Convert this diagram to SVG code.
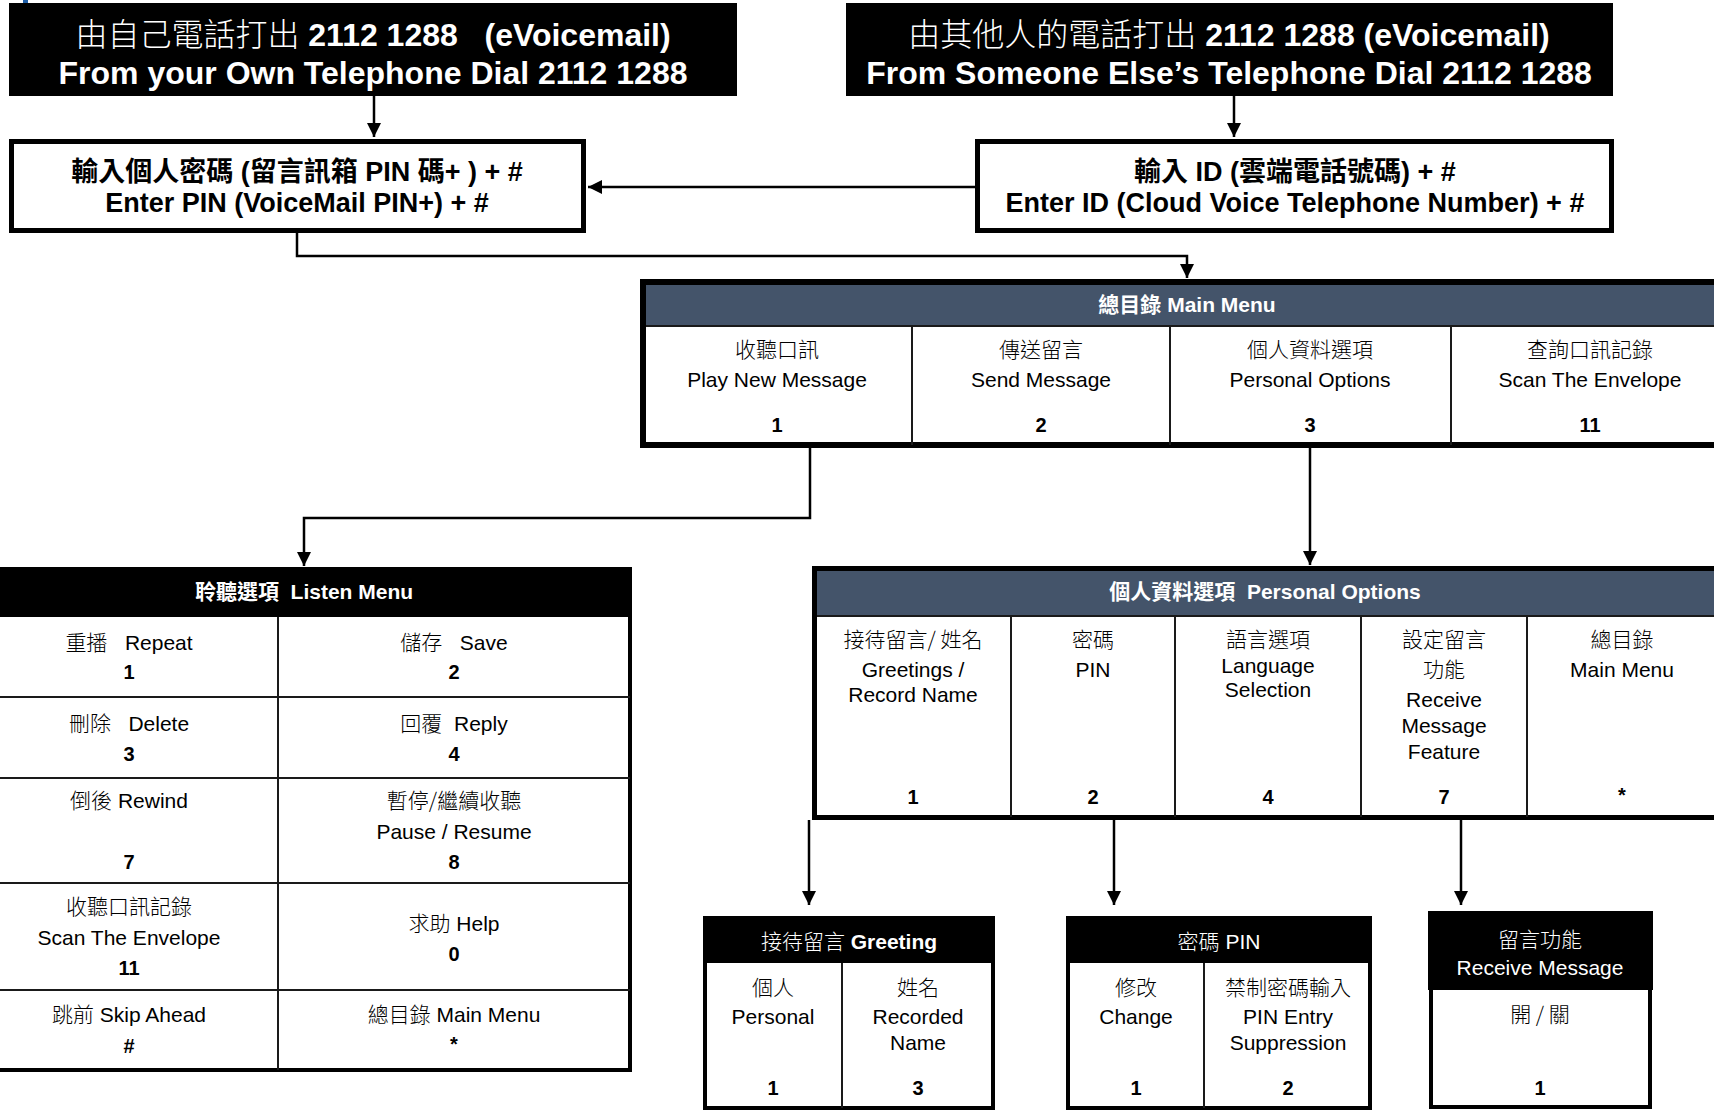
<svg xmlns="http://www.w3.org/2000/svg" width="1714" height="1110" viewBox="0 0 1714 1110">
<style>
text{font-family:"Liberation Sans","Noto Sans CJK TC",sans-serif;text-anchor:middle;fill:#000}
.c{font-family:"Noto Sans CJK TC","Liberation Sans",sans-serif;font-weight:300}
.cb{font-family:"Noto Sans CJK TC","Liberation Sans",sans-serif;font-weight:700}
.w{fill:#fff}
.b{font-weight:bold}
.top{font-size:32px}
.pin{font-size:27px;font-weight:bold}
.hd{font-size:21px;font-weight:bold;fill:#fff}
.t{font-size:21px}
.n{font-size:20px;font-weight:bold}
.box{fill:#fff;stroke:#000}
.cell{stroke:#1a1a1a;stroke-width:2;fill:none}
.con{stroke:#000;stroke-width:2.5;fill:none}
</style>
<defs>
<marker id="ah" markerUnits="userSpaceOnUse" markerWidth="16" markerHeight="16" refX="14" refY="7" orient="auto">
<path d="M0,0 L14,7 L0,14 Z" fill="#000"/>
</marker>
</defs>
<rect x="23" y="0" width="5" height="3" fill="#1f5fa8"/>

<g id="connectors">
<line class="con" x1="374" y1="96" x2="374" y2="137" marker-end="url(#ah)"/>
<line class="con" x1="1234" y1="96" x2="1234" y2="137" marker-end="url(#ah)"/>
<line class="con" x1="975" y1="187" x2="588" y2="187" marker-end="url(#ah)"/>
<polyline class="con" points="297,233 297,256 1187,256 1187,278" marker-end="url(#ah)"/>
<polyline class="con" points="810,448 810,518 304,518 304,566" marker-end="url(#ah)"/>
<line class="con" x1="1310" y1="448" x2="1310" y2="565" marker-end="url(#ah)"/>
<line class="con" x1="809" y1="820" x2="809" y2="905" marker-end="url(#ah)"/>
<line class="con" x1="1114" y1="820" x2="1114" y2="905" marker-end="url(#ah)"/>
<line class="con" x1="1461" y1="820" x2="1461" y2="905" marker-end="url(#ah)"/>
</g>

<g id="own-phone">
<rect x="9" y="3" width="728" height="93" fill="#000"/>
<text class="top w" x="373" y="46" xml:space="preserve"><tspan class="c w">由自己電話打出</tspan><tspan class="b w"> 2112 1288   (eVoicemail)</tspan></text>
<text class="top w b" x="373" y="84">From your Own Telephone Dial 2112 1288</text>
</g>

<g id="other-phone">
<rect x="846" y="3" width="767" height="93" fill="#000"/>
<text class="top w" x="1229" y="46" xml:space="preserve"><tspan class="c w">由其他人的電話打出</tspan><tspan class="b w"> 2112 1288 (eVoicemail)</tspan></text>
<text class="top w b" x="1229" y="84">From Someone Else’s Telephone Dial 2112 1288</text>
</g>

<g id="enter-pin">
<rect class="box" x="11.5" y="141.5" width="572" height="89" stroke-width="5"/>
<text class="pin" x="297" y="181"><tspan class="cb">輸入個人密碼</tspan> (<tspan class="cb">留言訊箱</tspan> PIN <tspan class="cb">碼</tspan>+ ) + #</text>
<text class="pin" x="297" y="212">Enter PIN (VoiceMail PIN+) + #</text>
</g>

<g id="enter-id">
<rect class="box" x="977.5" y="141.5" width="634" height="89" stroke-width="5"/>
<text class="pin" x="1295" y="181"><tspan class="cb">輸入</tspan> ID (<tspan class="cb">雲端電話號碼</tspan>) + #</text>
<text class="pin" x="1295" y="212">Enter ID (Cloud Voice Telephone Number) + #</text>
</g>

<g id="main-menu">
<rect class="box" x="643" y="282" width="1100" height="163" stroke-width="6"/>
<rect x="646" y="285" width="1100" height="40" fill="#44546a"/>
<line class="cell" x1="646" y1="326" x2="1714" y2="326"/>
<line class="cell" x1="912" y1="326" x2="912" y2="445"/>
<line class="cell" x1="1170" y1="326" x2="1170" y2="445"/>
<line class="cell" x1="1451" y1="326" x2="1451" y2="445"/>
<text class="hd" x="1187" y="312"><tspan class="cb w">總目錄</tspan> Main Menu</text>
<text class="t c" x="777" y="357">收聽口訊</text>
<text class="t" x="777" y="387">Play New Message</text>
<text class="n" x="777" y="432">1</text>
<text class="t c" x="1041" y="357">傳送留言</text>
<text class="t" x="1041" y="387">Send Message</text>
<text class="n" x="1041" y="432">2</text>
<text class="t c" x="1310" y="357">個人資料選項</text>
<text class="t" x="1310" y="387">Personal Options</text>
<text class="n" x="1310" y="432">3</text>
<text class="t c" x="1590" y="357">查詢口訊記錄</text>
<text class="t" x="1590" y="387">Scan The Envelope</text>
<text class="n" x="1590" y="432">11</text>
</g>

<g id="listen-menu">
<rect class="box" x="-20" y="569" width="650" height="501" stroke-width="4"/>
<rect x="-20" y="567" width="650" height="50" fill="#000"/>
<line class="cell" x1="278" y1="617" x2="278" y2="1070"/>
<line class="cell" x1="-20" y1="697" x2="630" y2="697"/>
<line class="cell" x1="-20" y1="778" x2="630" y2="778"/>
<line class="cell" x1="-20" y1="883" x2="630" y2="883"/>
<line class="cell" x1="-20" y1="990" x2="630" y2="990" stroke-width="3"/>
<text class="hd" x="304" y="599" xml:space="preserve"><tspan class="cb w">聆聽選項</tspan>  Listen Menu</text>
<text class="t" x="129" y="650" xml:space="preserve"><tspan class="c">重播</tspan>   Repeat</text>
<text class="n" x="129" y="679">1</text>
<text class="t" x="454" y="650" xml:space="preserve"><tspan class="c">儲存</tspan>   Save</text>
<text class="n" x="454" y="679">2</text>
<text class="t" x="129" y="731" xml:space="preserve"><tspan class="c">刪除</tspan>   Delete</text>
<text class="n" x="129" y="761">3</text>
<text class="t" x="454" y="731" xml:space="preserve"><tspan class="c">回覆</tspan>  Reply</text>
<text class="n" x="454" y="761">4</text>
<text class="t" x="129" y="808"><tspan class="c">倒後</tspan> Rewind</text>
<text class="n" x="129" y="869">7</text>
<text class="t c" x="454" y="808">暫停/繼續收聽</text>
<text class="t" x="454" y="839">Pause / Resume</text>
<text class="n" x="454" y="869">8</text>
<text class="t c" x="129" y="914">收聽口訊記錄</text>
<text class="t" x="129" y="945">Scan The Envelope</text>
<text class="n" x="129" y="975">11</text>
<text class="t" x="454" y="931"><tspan class="c">求助</tspan> Help</text>
<text class="n" x="454" y="961">0</text>
<text class="t" x="129" y="1022"><tspan class="c">跳前</tspan> Skip Ahead</text>
<text class="n" x="129" y="1053">#</text>
<text class="t" x="454" y="1022"><tspan class="c">總目錄</tspan> Main Menu</text>
<text class="n" x="454" y="1051">*</text>
</g>

<g id="personal-options">
<rect class="box" x="814.5" y="568.5" width="1000" height="249" stroke-width="5"/>
<rect x="817" y="571" width="1000" height="44" fill="#44546a"/>
<line class="cell" x1="817" y1="616" x2="1714" y2="616"/>
<line class="cell" x1="1011" y1="616" x2="1011" y2="817"/>
<line class="cell" x1="1175" y1="616" x2="1175" y2="817"/>
<line class="cell" x1="1361" y1="616" x2="1361" y2="817"/>
<line class="cell" x1="1527" y1="616" x2="1527" y2="817"/>
<text class="hd" x="1265" y="599" xml:space="preserve"><tspan class="cb w">個人資料選項</tspan>  Personal Options</text>
<text class="t c" x="913" y="647">接待留言/ 姓名</text>
<text class="t" x="913" y="677">Greetings /</text>
<text class="t" x="913" y="702">Record Name</text>
<text class="n" x="913" y="804">1</text>
<text class="t c" x="1093" y="647">密碼</text>
<text class="t" x="1093" y="677">PIN</text>
<text class="n" x="1093" y="804">2</text>
<text class="t c" x="1268" y="647">語言選項</text>
<text class="t" x="1268" y="673">Language</text>
<text class="t" x="1268" y="697">Selection</text>
<text class="n" x="1268" y="804">4</text>
<text class="t c" x="1444" y="647">設定留言</text>
<text class="t c" x="1444" y="677">功能</text>
<text class="t" x="1444" y="707">Receive</text>
<text class="t" x="1444" y="733">Message</text>
<text class="t" x="1444" y="759">Feature</text>
<text class="n" x="1444" y="804">7</text>
<text class="t c" x="1622" y="647">總目錄</text>
<text class="t" x="1622" y="677">Main Menu</text>
<text class="n" x="1622" y="802">*</text>
</g>

<g id="greeting">
<rect class="box" x="705" y="918" width="288" height="190" stroke-width="4"/>
<rect x="703" y="916" width="292" height="47" fill="#000"/>
<line class="cell" x1="842" y1="963" x2="842" y2="1108"/>
<text class="t w" x="849" y="949"><tspan class="c w">接待留言</tspan> <tspan class="b w">Greeting</tspan></text>
<text class="t c" x="773" y="995">個人</text>
<text class="t" x="773" y="1024">Personal</text>
<text class="n" x="773" y="1095">1</text>
<text class="t c" x="918" y="995">姓名</text>
<text class="t" x="918" y="1024">Recorded</text>
<text class="t" x="918" y="1050">Name</text>
<text class="n" x="918" y="1095">3</text>
</g>

<g id="pin">
<rect class="box" x="1068" y="918" width="302" height="190" stroke-width="4"/>
<rect x="1066" y="916" width="306" height="47" fill="#000"/>
<line class="cell" x1="1204" y1="963" x2="1204" y2="1108"/>
<text class="t w" x="1219" y="949"><tspan class="c w">密碼</tspan> PIN</text>
<text class="t c" x="1136" y="995">修改</text>
<text class="t" x="1136" y="1024">Change</text>
<text class="n" x="1136" y="1095">1</text>
<text class="t c" x="1288" y="995">禁制密碼輸入</text>
<text class="t" x="1288" y="1024">PIN Entry</text>
<text class="t" x="1288" y="1050">Suppression</text>
<text class="n" x="1288" y="1095">2</text>
</g>

<g id="receive-message">
<rect class="box" x="1431" y="913" width="219" height="194" stroke-width="4"/>
<rect x="1428" y="911" width="225" height="79" fill="#000"/>
<text class="t c w" x="1540" y="947">留言功能</text>
<text class="t w" x="1540" y="975">Receive Message</text>
<text class="t c" x="1540" y="1022">開 / 關</text>
<text class="n" x="1540" y="1095">1</text>
</g>
</svg>
